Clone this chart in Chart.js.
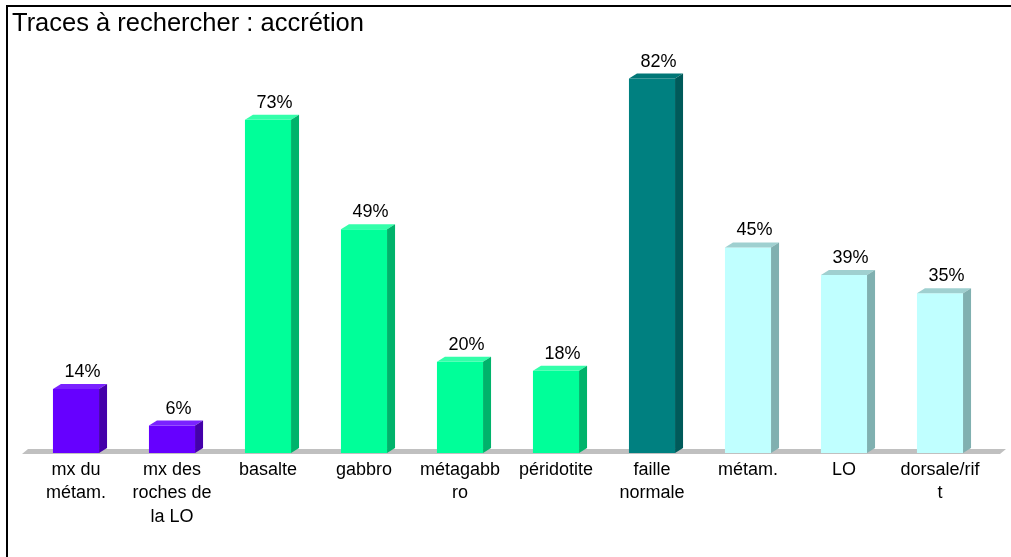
<!DOCTYPE html>
<html>
<head>
<meta charset="utf-8">
<script src="https://cdn.jsdelivr.net/npm/chart.js@4.4.1/dist/chart.umd.min.js"></script>
<style>
  html, body { margin: 0; padding: 0; background: #fff; }
  #wrap { position: relative; width: 1011px; height: 557px; }
</style>
</head>
<body>
<div id="wrap"><canvas id="chart-traces" width="1011" height="557"></canvas></div>
<script>
const categories = [
  ['mx du', 'métam.'],
  ['mx des', 'roches de', 'la LO'],
  'basalte',
  'gabbro',
  ['métagabb', 'ro'],
  'péridotite',
  ['faille', 'normale'],
  'métam.',
  'LO',
  ['dorsale/rif', 't'],
];
const percentages = [14, 6, 73, 49, 20, 18, 82, 45, 39, 35];

// colour groups: front / top / side
const groups = {
  purple: ['#6600ff', '#7a22ff', '#4400aa'],
  green:  ['#00ff99', '#33ffaa', '#00b36b'],
  teal:   ['#008080', '#007676', '#005a5a'],
  cyan:   ['#c0ffff', '#9fd0d0', '#80b0b0'],
};
const barGroup = ['purple', 'purple', 'green', 'green', 'green', 'green', 'teal', 'cyan', 'cyan', 'cyan'];

const FONT = '"Liberation Sans", Arial, sans-serif';
const DX = 8, DY = 5;

// outer frame (left + top edges)
const framePlugin = {
  id: 'frame',
  beforeDraw(chart) {
    const c = chart.ctx;
    c.save();
    c.fillStyle = '#000';
    c.fillRect(6, 5, 2, chart.height);
    c.fillRect(6, 5, chart.width, 2);
    c.restore();
  },
};

// grey 3D floor under the bars
const floorPlugin = {
  id: 'floor',
  beforeDatasetsDraw(chart) {
    const { left, right, bottom } = chart.chartArea;
    const c = chart.ctx;
    c.save();
    c.fillStyle = '#c0c0c0';
    c.beginPath();
    c.moveTo(left - 6, bottom + 1);
    c.lineTo(right + 12, bottom + 1);
    c.lineTo(right + 18, bottom - 4);
    c.lineTo(left, bottom - 4);
    c.closePath();
    c.fill();
    c.restore();
  },
};

// top and side faces + value labels
const bars3dPlugin = {
  id: 'bars3d',
  afterDatasetsDraw(chart) {
    const c = chart.ctx;
    const meta = chart.getDatasetMeta(0);
    c.save();
    meta.data.forEach((bar, i) => {
      const [, top, side] = groups[barGroup[i]];
      const l = bar.x - bar.width / 2, r = bar.x + bar.width / 2;
      const y = bar.y, b = bar.base;
      c.fillStyle = top;
      c.beginPath();
      c.moveTo(l, y); c.lineTo(l + DX, y - DY); c.lineTo(r + DX, y - DY); c.lineTo(r, y);
      c.closePath(); c.fill();
      c.fillStyle = side;
      c.beginPath();
      c.moveTo(r, y); c.lineTo(r + DX, y - DY); c.lineTo(r + DX, b - DY); c.lineTo(r, b);
      c.closePath(); c.fill();

      c.fillStyle = '#000';
      c.font = '18px ' + FONT;
      c.textAlign = 'center';
      c.textBaseline = 'alphabetic';
      c.fillText(percentages[i] + '%', bar.x + DX / 2 + 2.5, y - DY - 7);
    });
    c.restore();
  },
};

new Chart(document.getElementById('chart-traces'), {
  type: 'bar',
  data: {
    labels: categories,
    datasets: [{
      data: percentages,
      backgroundColor: barGroup.map(g => groups[g][0]),
      borderWidth: 0,
      barPercentage: 0.48,
      categoryPercentage: 1,
    }],
  },
  options: {
    responsive: false,
    animation: false,
    layout: { padding: { left: 12, right: 23, top: 0, bottom: 23.5 } },
    plugins: {
      legend: { display: false },
      tooltip: { enabled: false },
      title: {
        display: true, text: 'Traces à rechercher : accrétion', align: 'start',
        color: '#000', font: { family: FONT, size: 25.5, weight: 'normal', lineHeight: 1.2 },
        padding: { top: 9, bottom: 2.4 },
      },
    },
    scales: {
      x: {
        grid: { display: false, drawTicks: false }, border: { display: false },
        ticks: { color: '#000', font: { family: FONT, size: 18, lineHeight: 1.3056 }, padding: 5, autoSkip: false, maxRotation: 0 },
      },
      y: {
        min: 0, max: 90,
        grid: { display: false, drawTicks: false }, border: { display: false },
        ticks: { display: false },
        afterFit: s => { s.width = 16; },
      },
    },
  },
  plugins: [framePlugin, floorPlugin, bars3dPlugin],
});
</script>
</body>
</html>
